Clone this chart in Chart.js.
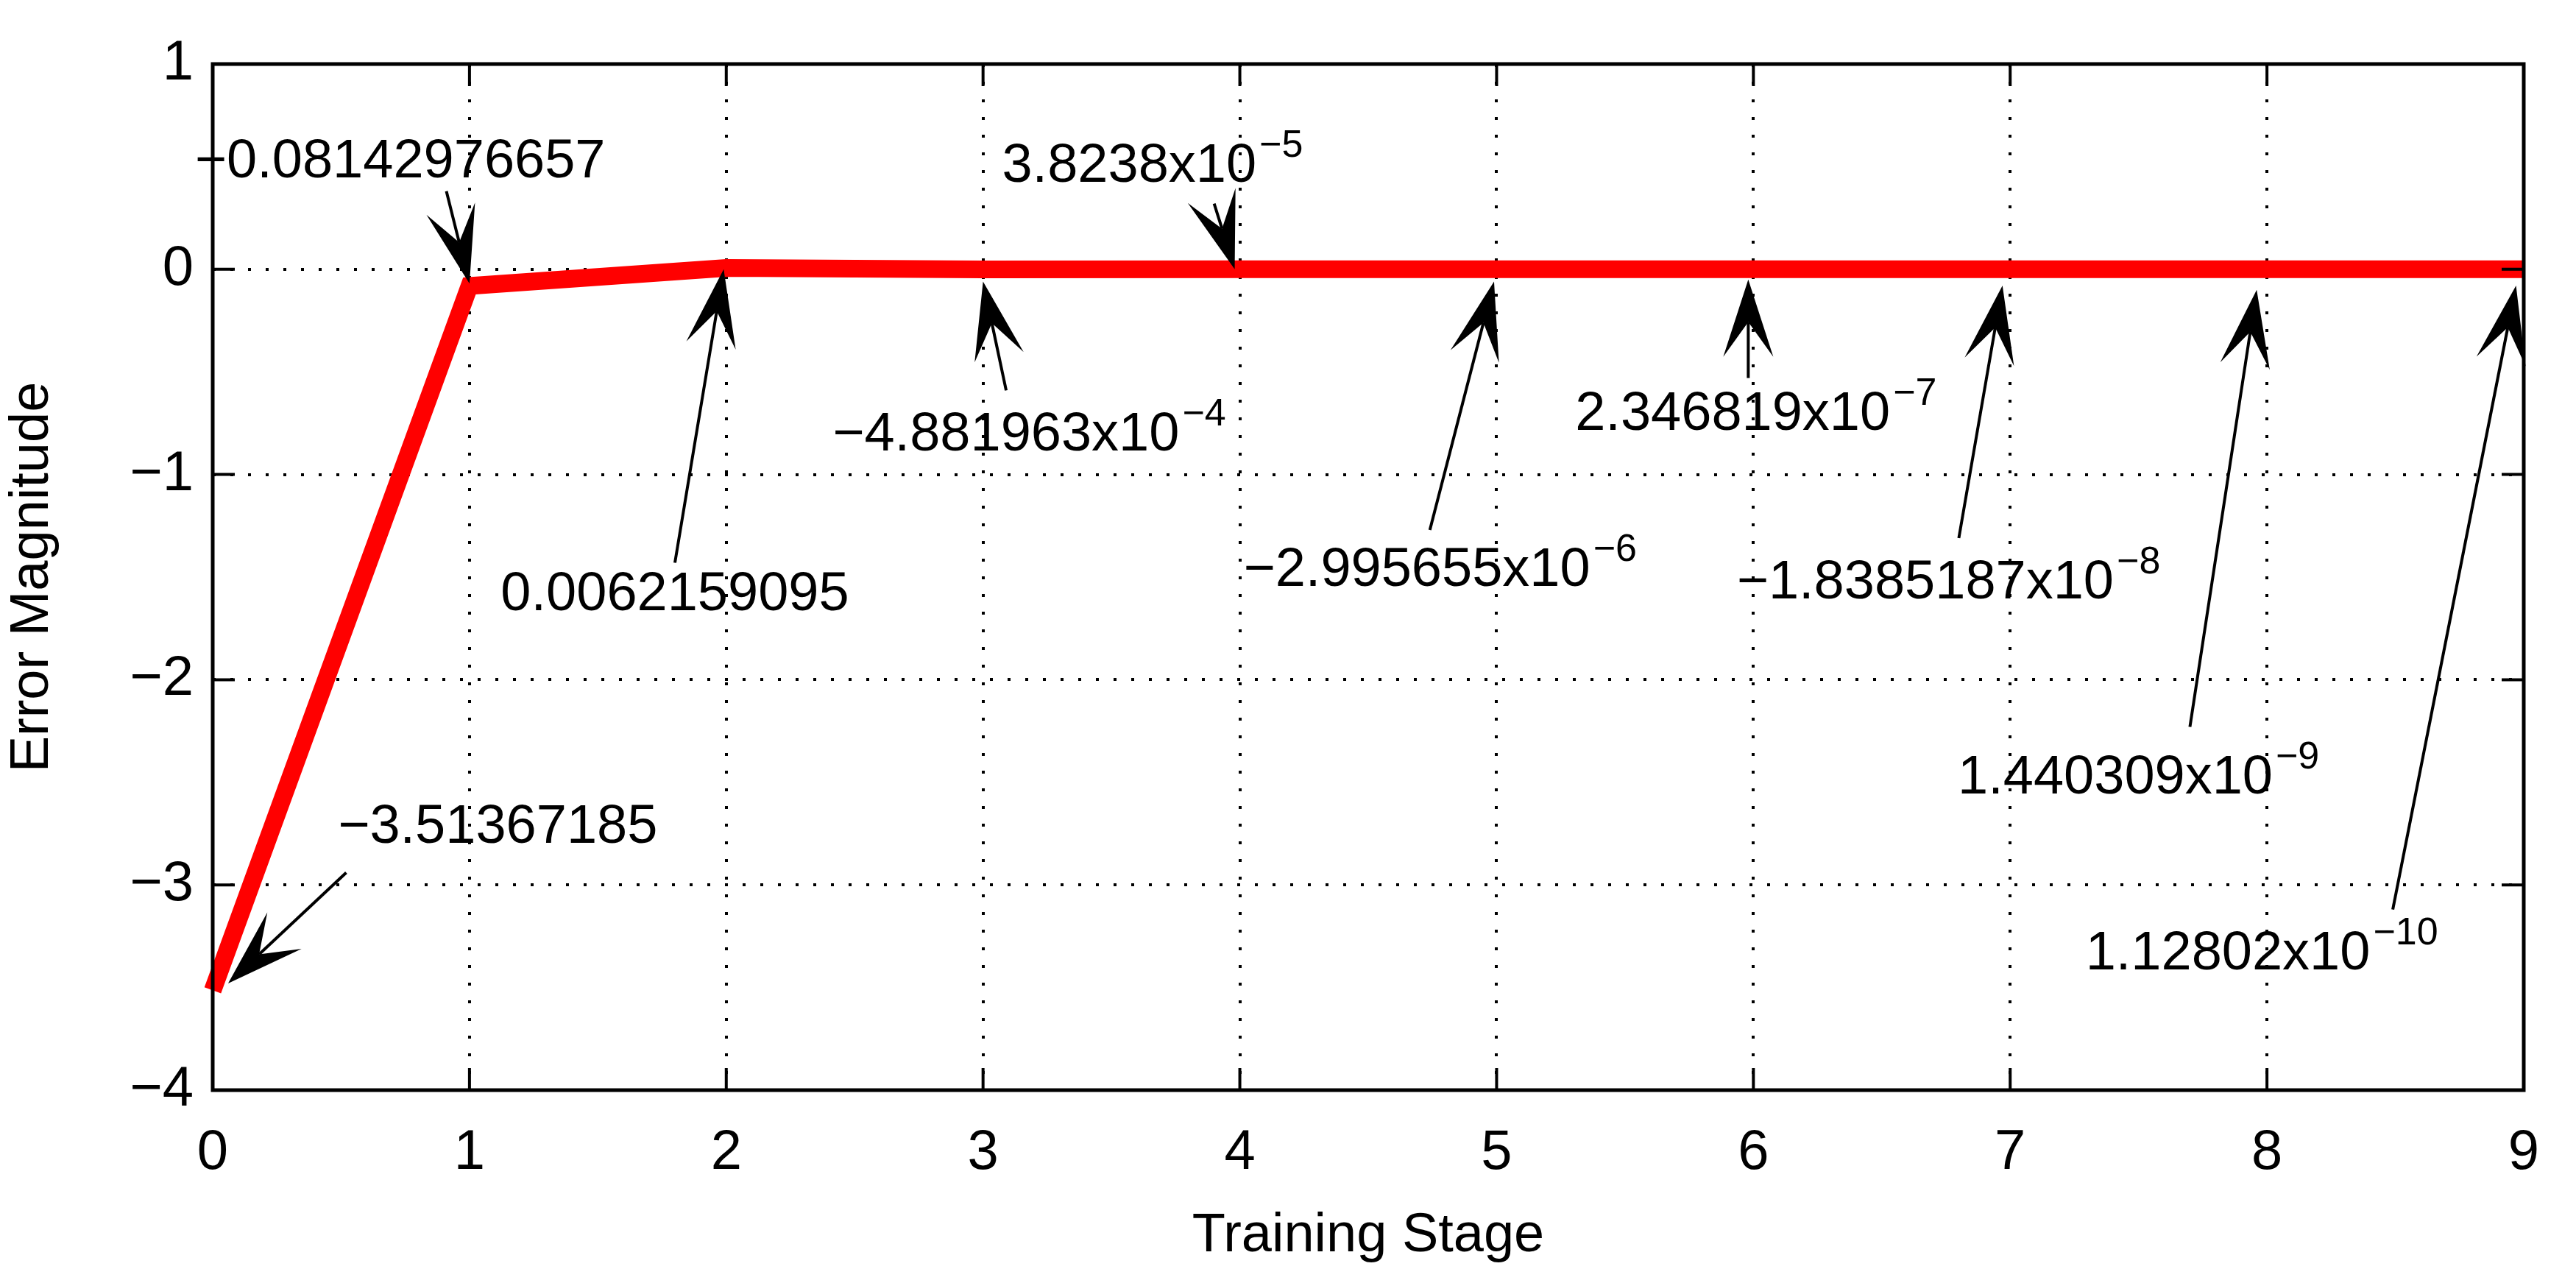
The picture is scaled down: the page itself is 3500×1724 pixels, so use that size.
<!DOCTYPE html>
<html><head><meta charset="utf-8">
<script src="https://cdn.jsdelivr.net/npm/chart.js@4/dist/chart.umd.min.js"></script>
<style>html,body{margin:0;padding:0;background:#fff}#w{width:3500px;height:1724px}</style>
</head><body><div id="w"><canvas id="c"></canvas></div>
<script>
const stages = [0,1,2,3,4,5,6,7,8,9];
const errors = [-3.51367185,-0.08142976657,0.0062159095,-4.881963e-4,3.8238e-5,-2.995655e-6,2.346819e-7,-1.8385187e-8,1.440309e-9,1.12802e-10];
const xTicks = [0,1,2,3,4,5,6,7,8,9];
const yTicks = [-4,-3,-2,-1,0,1];
const labelMain = ["\u22123.51367185","\u22120.08142976657","0.0062159095","\u22124.881963x10","3.8238x10","\u22122.995655x10","2.346819x10","\u22121.8385187x10","1.440309x10","1.12802x10"];
const labelExp  = ["","","","\u22124","\u22125","\u22126","\u22127","\u22128","\u22129","\u221210"];
const textX = [1.11,0.73,1.80,3.18,3.66,4.78,6.01,6.76,7.50,7.98];
const textY = [-2.72,0.52,-1.59,-0.81,0.50,-1.47,-0.71,-1.53,-2.48,-3.34];
const tailX = [0.52,0.91,1.80,3.09,3.90,4.74,5.98,6.80,7.70,8.49];
const tailY = [-2.94,0.38,-1.43,-0.59,0.32,-1.27,-0.53,-1.31,-2.23,-3.12];
const headX = [0.06,1.0,1.99,3.0,3.98,4.99,5.98,6.97,7.96,8.97];
const headY = [-3.48,-0.07,0.0,-0.06,0.0,-0.06,-0.05,-0.08,-0.10,-0.08];

const FONT = "'Liberation Sans', Arial, sans-serif";
const annot = {
  id:'annot',
  afterDraw(chart){
    const ctx = chart.ctx, xs = chart.scales.x, ys = chart.scales.y, a = chart.chartArea;
    ctx.save();
    ctx.strokeStyle='#000'; ctx.lineWidth=4;
    xTicks.forEach(v=>{const px=xs.getPixelForValue(v);ctx.beginPath();ctx.moveTo(px,a.bottom);ctx.lineTo(px,a.bottom-30);ctx.moveTo(px,a.top);ctx.lineTo(px,a.top+30);ctx.stroke();});
    yTicks.forEach(v=>{const py=ys.getPixelForValue(v);ctx.beginPath();ctx.moveTo(a.left,py);ctx.lineTo(a.left+30,py);ctx.moveTo(a.right,py);ctx.lineTo(a.right-30,py);ctx.stroke();});
    ctx.lineWidth=5; ctx.strokeRect(a.left,a.top,a.right-a.left,a.bottom-a.top);
    ctx.fillStyle='#000';
    for(let i=0;i<labelMain.length;i++){
      const tx=xs.getPixelForValue(tailX[i]), ty=ys.getPixelForValue(tailY[i]);
      const hx=xs.getPixelForValue(headX[i]), hy=ys.getPixelForValue(headY[i]);
      const ang=Math.atan2(hy-ty,hx-tx), L=105, W=34, N=0.55;
      const bx=hx-L*Math.cos(ang), by=hy-L*Math.sin(ang);
      const nx=hx-L*N*Math.cos(ang), ny=hy-L*N*Math.sin(ang);
      ctx.lineWidth=4;
      ctx.beginPath();ctx.moveTo(tx,ty);ctx.lineTo(nx,ny);ctx.stroke();
      ctx.beginPath();ctx.moveTo(hx,hy);
      ctx.lineTo(bx+W*Math.sin(ang),by-W*Math.cos(ang));
      ctx.lineTo(nx,ny);
      ctx.lineTo(bx-W*Math.sin(ang),by+W*Math.cos(ang));
      ctx.closePath();ctx.fill();
      const cx=xs.getPixelForValue(textX[i]), cy=ys.getPixelForValue(textY[i]);
      ctx.font="74px "+FONT; const w1=ctx.measureText(labelMain[i]).width;
      ctx.font="52px "+FONT; const w2=labelExp[i]?ctx.measureText(labelExp[i]).width+4:0;
      const sx=cx-(w1+w2)/2;
      ctx.textBaseline='middle'; ctx.textAlign='left';
      ctx.font="74px "+FONT; ctx.fillText(labelMain[i],sx,cy);
      if(labelExp[i]){ctx.font="52px "+FONT; ctx.fillText(labelExp[i],sx+w1+4,cy-28);}
    }
    ctx.restore();
  }
};

new Chart(document.getElementById('c'),{
  type:'line',
  data:{datasets:[{data:stages.map((s,i)=>({x:s,y:errors[i]})),borderColor:'#ff0000',borderWidth:24,pointRadius:0,tension:0,borderJoinStyle:'miter',clip:false}]},
  options:{
    responsive:true,maintainAspectRatio:false,animation:false,devicePixelRatio:1,
    layout:{padding:{top:87,right:71,left:0,bottom:0}},
    plugins:{legend:{display:false},tooltip:{enabled:false}},
    scales:{
      x:{type:'linear',min:0,max:9,
        afterBuildTicks(s){s.ticks=xTicks.map(v=>({value:v}));},
        afterFit(s){s.height=243;},
        grid:{color:'#000',lineWidth:4,drawTicks:false},
        border:{display:false,dash:[4,20]},
        ticks:{color:'#000',font:{size:76,family:FONT},padding:40,maxRotation:0},
        title:{display:true,text:'Training Stage',color:'#000',font:{size:74,family:FONT},padding:{top:10,bottom:0}}},
      y:{type:'linear',min:-4,max:1,
        afterBuildTicks(s){s.ticks=yTicks.map(v=>({value:v}));},
        afterFit(s){s.width=289;},
        grid:{color:'#000',lineWidth:4,drawTicks:false},
        border:{display:false,dash:[4,20]},
        ticks:{color:'#000',font:{size:76,family:FONT},padding:26,callback:v=>v<0?'\u2212'+(-v):''+v},
        title:{display:true,text:'Error Magnitude',color:'#000',font:{size:74,family:FONT},padding:{top:0,bottom:30}}}
    }
  },
  plugins:[annot]
});
</script></body></html>
